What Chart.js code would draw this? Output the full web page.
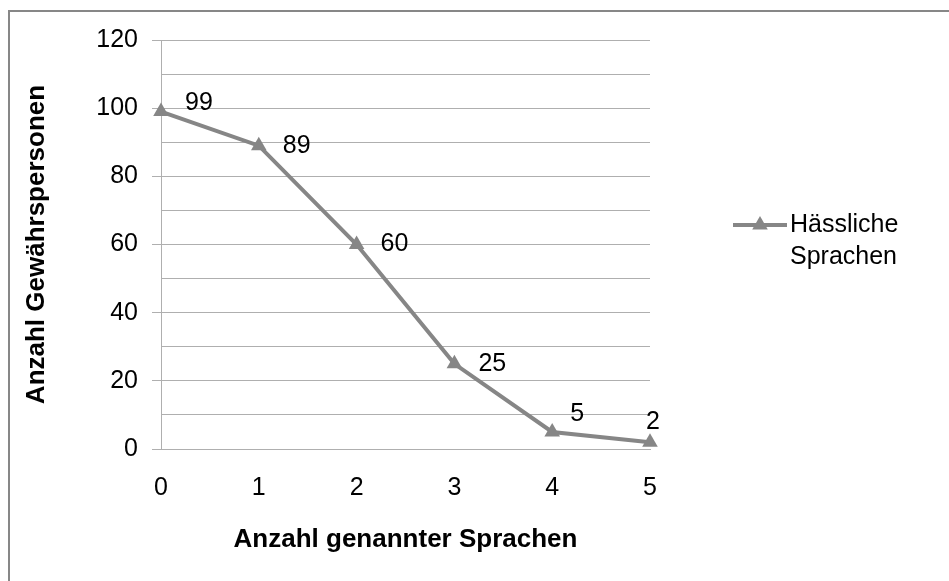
<!DOCTYPE html>
<html>
<head>
<meta charset="utf-8">
<script src="https://cdn.jsdelivr.net/npm/chart.js@4.4.1/dist/chart.umd.min.js"></script>
<style>
  html, body { margin: 0; padding: 0; background: #fff; overflow: hidden; }
  #frame { position: absolute; left: 8px; top: 10px; width: 2000px; height: 2000px; border: 2px solid #878787; }
  #chart { position: absolute; left: 0; top: 0; }
</style>
</head>
<body>
<div id="frame"></div>
<canvas id="chart" width="949" height="581"></canvas>
<script>
const gray = '#868686';
const gridGray = '#afafaf';
const black = '#000000';
const family = '"Liberation Sans", Arial, sans-serif';

const categories = [0, 1, 2, 3, 4, 5];
const values = [99, 89, 60, 25, 5, 2];
const yTickLabels = [0, 20, 40, 60, 80, 100, 120];
const seriesName = ['Hässliche', 'Sprachen'];
const xTitle = 'Anzahl genannter Sprachen';
const yTitle = 'Anzahl Gewährspersonen';

// where each value label sits relative to its point: dx, dy, align
const labelPlacement = [
  [24, -8, 'left'],
  [24, 0, 'left'],
  [24, 0, 'left'],
  [24, 0, 'left'],
  [18, -18, 'left'],
  [3, -20, 'center'],
];

const pointLabels = {
  id: 'pointLabels',
  afterDatasetsDraw(chart) {
    const ctx = chart.ctx;
    const meta = chart.getDatasetMeta(0);
    ctx.save();
    ctx.font = '25px ' + family;
    ctx.fillStyle = black;
    ctx.textBaseline = 'middle';
    meta.data.forEach((pt, i) => {
      const [dx, dy, align] = labelPlacement[i];
      ctx.textAlign = align;
      ctx.fillText(String(values[i]), pt.x + dx, pt.y + dy);
    });
    ctx.restore();
  }
};

// legend on the right, two-line name like the original
const sideLegend = {
  id: 'sideLegend',
  afterDraw(chart) {
    const ctx = chart.ctx;
    const x0 = chart.chartArea.right + 83;
    const y0 = 225;
    ctx.save();
    ctx.strokeStyle = gray;
    ctx.lineWidth = 4;
    ctx.beginPath();
    ctx.moveTo(x0, y0);
    ctx.lineTo(x0 + 54, y0);
    ctx.stroke();
    ctx.fillStyle = gray;
    Chart.helpers.drawPoint(ctx, { pointStyle: 'triangle', radius: 9, borderWidth: 0 }, x0 + 27, y0);
    ctx.fillStyle = black;
    ctx.font = '25px ' + family;
    ctx.textAlign = 'left';
    ctx.textBaseline = 'middle';
    seriesName.forEach((t, i) => ctx.fillText(t, x0 + 57, y0 + i * 32));
    ctx.restore();
  }
};

new Chart(document.getElementById('chart'), {
  type: 'line',
  data: {
    datasets: [{
      label: seriesName.join(' '),
      data: categories.map((c, i) => ({ x: c, y: values[i] })),
      borderColor: gray,
      backgroundColor: gray,
      borderWidth: 4,
      pointStyle: 'triangle',
      pointRadius: 9,
      pointBorderWidth: 0,
      pointBackgroundColor: gray,
      tension: 0,
      clip: false,
    }]
  },
  options: {
    responsive: false,
    animation: false,
    layout: { padding: { left: 10, top: 40, right: 299, bottom: 0 } },
    plugins: {
      legend: { display: false },
      tooltip: { enabled: false },
    },
    scales: {
      x: {
        type: 'linear',
        min: 0,
        max: 5,
        afterFit(scale) { scale.height = 132; },
        ticks: {
          stepSize: 1,
          padding: 24,
          color: black,
          font: { size: 25, family: family },
        },
        grid: { display: false, drawTicks: false },
        border: { color: gridGray },
        title: {
          display: true,
          text: xTitle,
          color: black,
          font: { size: 26, weight: 'bold', family: family },
          padding: { bottom: 26 },
        },
      },
      y: {
        min: 0,
        max: 120,
        afterFit(scale) { scale.width = 151; },
        ticks: {
          stepSize: 10,
          autoSkip: false,
          padding: 14,
          color: black,
          font: { size: 25, family: family },
          callback: (v) => (yTickLabels.includes(v) ? v : ''),
        },
        grid: {
          color: gridGray,
          tickLength: 9,
          tickColor: (c) => (c.tick && yTickLabels.includes(c.tick.value) ? gridGray : 'rgba(0,0,0,0)'),
        },
        border: { color: gridGray },
        title: {
          display: true,
          text: yTitle,
          color: black,
          font: { size: 26, weight: 'bold', family: family },
          padding: { top: 11 },
        },
      },
    },
  },
  plugins: [pointLabels, sideLegend],
});
</script>
</body>
</html>
